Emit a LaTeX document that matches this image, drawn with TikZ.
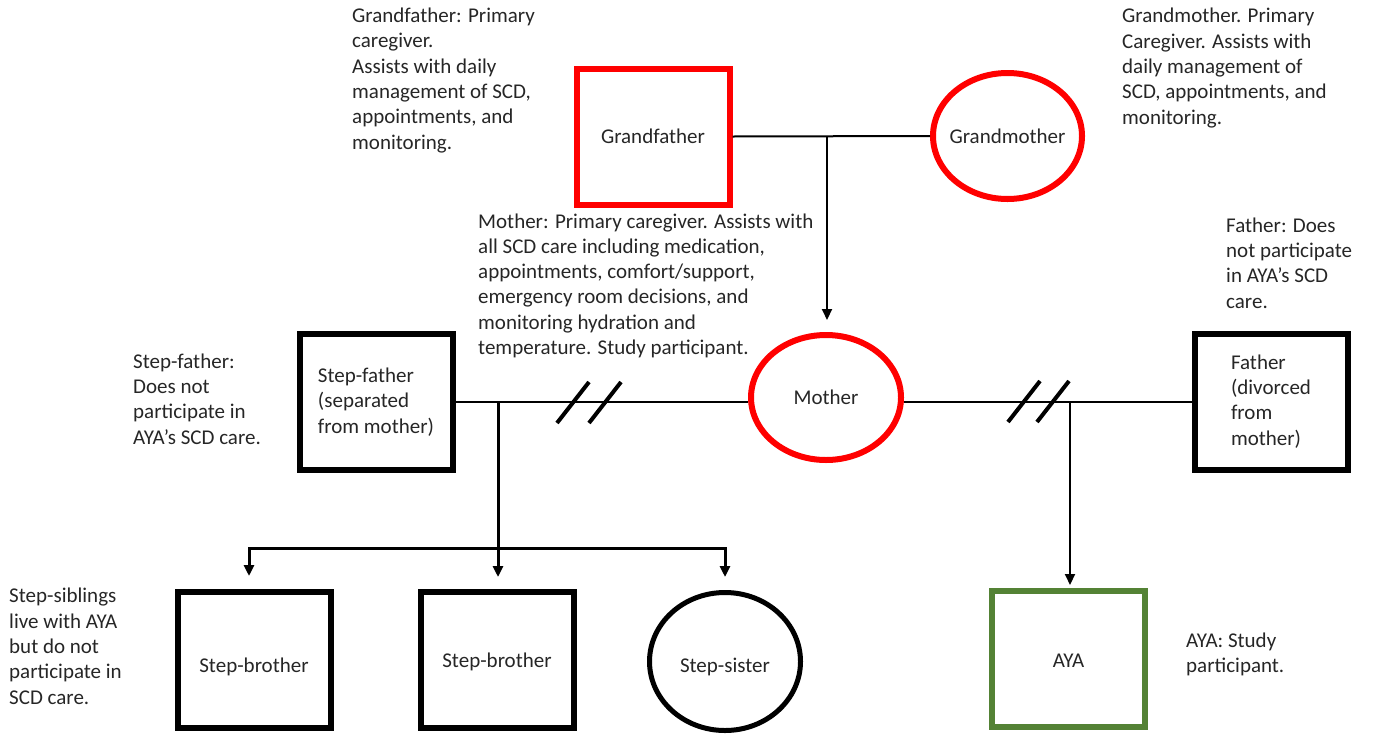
\documentclass[tikz,border=0pt]{standalone}
\usepackage{fontspec}
\setmainfont{Carlito}
\usetikzlibrary{arrows.meta,shapes.geometric,calc}
\definecolor{ink}{RGB}{38,38,38}
\definecolor{kinred}{RGB}{255,0,0}
\definecolor{ayagreen}{RGB}{84,130,53}

\begin{document}
\begin{tikzpicture}[x=1pt,y=-1pt,
  every node/.style={font=\fontsize{21}{25.3}\selectfont, text=ink},
  male/.style={draw, rectangle, line width=6pt, minimum width=153pt, minimum height=136pt, inner sep=0pt, align=left},
  female/.style={draw, ellipse, line width=6pt, inner sep=0pt},
  % notes are placed by the baseline of their last line
  note/.style={anchor=base west, align=left, inner sep=0pt},
  tie/.style={line width=2pt},
  kin/.style={line width=3pt},
  tip/.style={-{Triangle[width=10pt,length=11pt]}},
  cut/.style={line width=4pt}
]
\useasboundingbox (0,0) rectangle (1373,737);

% people
\node[male, draw=kinred] (gf) at (653,136.5) {Grandfather};
\node[female, draw=kinred, minimum width=149pt, minimum height=126pt] (gm) at (1007.5,136) {\makebox[0pt]{Grandmother}};
\node[female, draw=kinred, minimum width=150pt, minimum height=125pt] (mo) at (826,397.5) {Mother};
\node[male] (sf) at (376,402) {Step-father\\(separated\\from mother)};
\node[male] (fa) at (1271,401.5) {Father\\(divorced\\from\\mother)};
\node[male] (sb1) at (254,660) {\raisebox{-7pt}[\height][\depth]{Step-brother}};
\node[male] (sb2) at (497,660) {\raisebox{-2pt}[\height][\depth]{Step-brother}};
\node[female, line width=5pt, minimum width=151pt, minimum height=138pt] (ss) at (725,661.5) {\raisebox{-5pt}[\height][\depth]{Step-sister}};
\node[male, draw=ayagreen] (aya) at (1068.5,659) {\raisebox{-2pt}[\height][\depth]{AYA}};

% junction points on the partnership lines
\coordinate (gp) at (827,136.5);
\coordinate (j1) at (498,402);
\coordinate (j2) at (1070,401.5);
\coordinate (bl) at (249,548);
\coordinate (br) at (725,548);

% grandparents and their daughter
\draw[tie] (gf.east) -- (gm.west);
\draw[tie, tip, shorten >=12pt] (gp) -- (gp |- mo.north);

% mother with step-father (separated) and father (divorced)
\draw[tie] (sf.east) -- (sf.east -| mo.west);
\draw[tie] (fa.west -| mo.east) -- (fa.west);
\draw[cut] (557,423) -- (589,382);
\draw[cut] (589,423) -- (621,382);
\draw[cut] (1008,422) -- (1040,381);
\draw[cut] (1037,422) -- (1069,381);

% AYA
\draw[tie, tip, shorten >=3pt] (j2) -- (j2 |- aya.north);

% step-siblings
\draw[kin, tip, shorten >=12pt] (j1) -- (j1 |- sb2.north);
\draw[kin, tip, shorten >=13pt] (br) -- (bl) -- (bl |- sb1.north);
\draw[kin, tip, shorten >=13pt] (bl) -- (br) -- (br |- ss.north);

% descriptions
\node[note] (gfnote) at (352,149) {Grandfather: Primary\\caregiver.\\Assists with daily\\management of SCD,\\appointments, and\\monitoring.};
\node[note] (gmnote) at (1122,124) {Grandmother. Primary\\Caregiver. Assists with\\daily management of\\SCD, appointments, and\\monitoring.};
\node[note] (monote) at (478,354.5) {Mother: Primary caregiver. Assists with\\all SCD care including medication,\\appointments, comfort/support,\\emergency room decisions, and\\monitoring hydration and\\temperature. Study participant.};
\node[note] (fanote) at (1226,308) {Father: Does\\not participate\\in AYA’s SCD\\care.};
\node[note] (sfnote) at (133,444) {Step-father:\\Does not\\participate in\\AYA’s SCD care.};
\node[note] (sbnote) at (9,704) {Step-siblings\\live with AYA\\but do not\\participate in\\SCD care.};
\node[note] (ayanote) at (1186,672.5) {AYA: Study\\participant.};
\end{tikzpicture}
\end{document}
